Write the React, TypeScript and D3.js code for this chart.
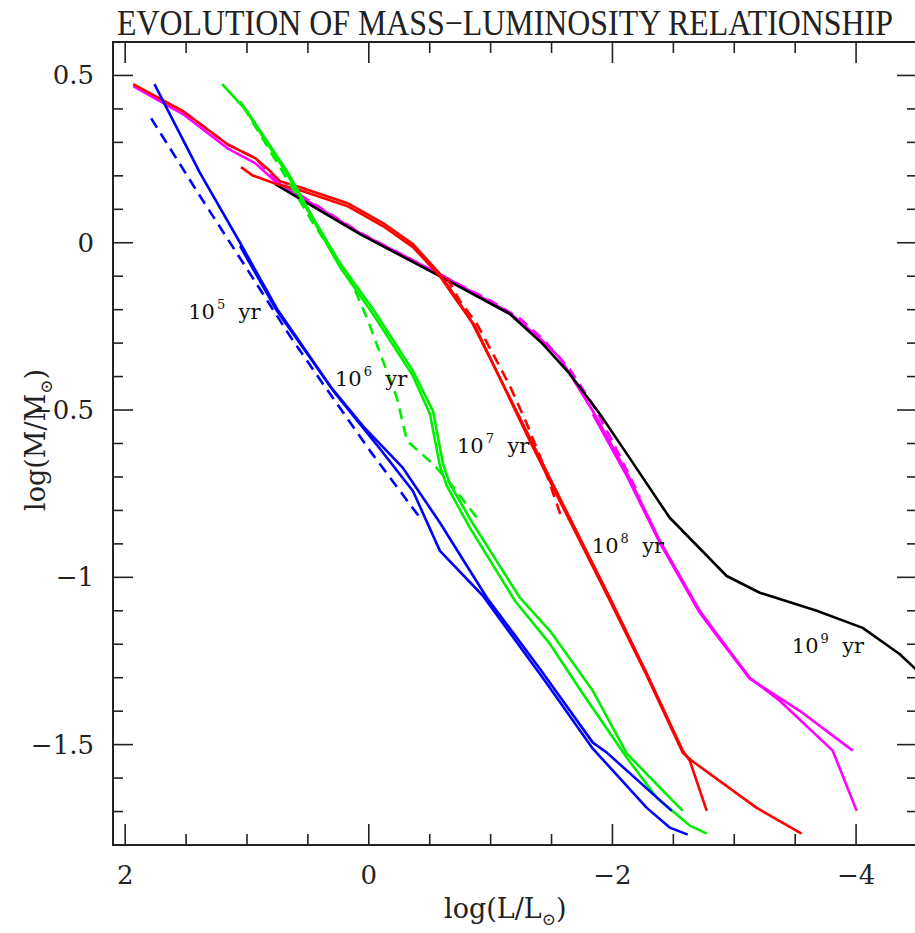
import React, { useLayoutEffect, useRef, useState } from "react";
import * as d3 from "d3";

type P = [number, number];

// 10^5 yr (blue)
const blueA: P[] = [[1.76,0.474],[1.385,0.208],[1.057,0.0],[0.753,-0.198],[0.318,-0.428],[0.048,-0.548],[-0.28,-0.673],[-0.584,-0.837],[-0.969,-1.061],[-1.404,-1.273],[-1.839,-1.494],[-1.954,-1.524],[-2.487,-1.698]];
const blueB: P[] = [[1.057,-0.01],[0.753,-0.204],[0.278,-0.449],[-0.092,-0.616],[-0.362,-0.742],[-0.584,-0.921],[-0.936,-1.055],[-1.445,-1.309],[-1.839,-1.512],[-2.282,-1.689],[-2.47,-1.748],[-2.618,-1.769]];
const blueDash: P[] = [[1.787,0.372],[1.385,0.139],[0.999,-0.079],[0.647,-0.279],[0.376,-0.422],[-0.01,-0.622],[-0.42,-0.822]];

// 10^6 yr (green)
const greenA: P[] = [[1.204,0.474],[0.999,0.393],[0.671,0.214],[0.458,0.074],[0.236,-0.061],[-0.034,-0.198],[-0.362,-0.383],[-0.527,-0.503],[-0.609,-0.661],[-0.666,-0.721],[-0.855,-0.84],[-1.24,-1.061],[-1.487,-1.16],[-1.839,-1.339],[-2.118,-1.527],[-2.577,-1.698]];
const greenB: P[] = [[1.057,0.423],[0.671,0.205],[0.236,-0.073],[-0.034,-0.213],[-0.362,-0.398],[-0.502,-0.512],[-0.584,-0.667],[-0.641,-0.727],[-0.83,-0.852],[-1.199,-1.07],[-1.487,-1.199],[-1.757,-1.348],[-2.118,-1.539],[-2.364,-1.659],[-2.635,-1.742],[-2.774,-1.766]];
const greenDash: P[] = [[1.032,0.408],[0.671,0.19],[0.458,0.059],[0.154,-0.108],[0.015,-0.225],[-0.116,-0.353],[-0.231,-0.464],[-0.313,-0.592],[-0.527,-0.661],[-0.666,-0.718],[-0.888,-0.822]];

// 10^7 yr (red)
const redA: P[] = [[1.934,0.474],[1.524,0.393],[1.163,0.295],[0.934,0.253],[0.827,0.22],[0.729,0.184],[0.564,0.166],[0.179,0.119],[-0.116,0.059],[-0.362,-0.004],[-0.584,-0.093],[-0.724,-0.168],[-0.855,-0.243],[-1.322,-0.583],[-1.568,-0.763],[-1.979,-1.061],[-2.282,-1.288],[-2.577,-1.518],[-2.635,-1.548],[-2.774,-1.698]];
const redB: P[] = [[1.049,0.226],[0.958,0.202],[0.753,0.175],[0.564,0.157],[0.179,0.11],[-0.116,0.05],[-0.362,-0.013],[-0.584,-0.1],[-0.724,-0.174],[-0.871,-0.249],[-1.322,-0.592],[-1.568,-0.772],[-1.979,-1.07],[-2.282,-1.294],[-2.577,-1.524],[-2.651,-1.548],[-3.184,-1.689],[-3.553,-1.766]];
const redDash: P[] = [[-0.641,-0.105],[-0.748,-0.174],[-0.888,-0.243],[-1.019,-0.332],[-1.158,-0.428],[-1.298,-0.542],[-1.404,-0.637],[-1.487,-0.721],[-1.585,-0.825]];

// 10^8 yr (magenta)
const magA: P[] = [[1.934,0.468],[1.524,0.384],[1.163,0.283],[0.934,0.238],[0.769,0.184],[0.072,0.029],[-0.609,-0.099],[-1.158,-0.21],[-1.429,-0.294],[-1.568,-0.344],[-1.839,-0.503],[-2.118,-0.688],[-2.389,-0.891],[-2.717,-1.1],[-2.856,-1.169],[-3.127,-1.3],[-3.373,-1.369],[-3.808,-1.518],[-4.005,-1.698]];
const magB: P[] = [[-1.839,-0.512],[-2.118,-0.697],[-2.389,-0.897],[-2.717,-1.106],[-2.856,-1.174],[-3.127,-1.303],[-3.537,-1.399],[-3.972,-1.518]];
const magDash: P[] = [[1.524,0.393],[1.163,0.295],[0.934,0.253],[0.769,0.19],[0.072,0.03],[-0.609,-0.1],[-0.994,-0.172],[-1.24,-0.226],[-1.445,-0.294],[-1.65,-0.378],[-1.85,-0.49],[-2.02,-0.608],[-2.225,-0.76]];

// 10^9 yr (black)
const black: P[] = [[0.769,0.175],[0.072,0.026],[-0.609,-0.105],[-1.158,-0.213],[-1.429,-0.303],[-1.65,-0.392],[-1.897,-0.512],[-2.118,-0.631],[-2.47,-0.822],[-2.938,-0.996],[-3.209,-1.046],[-3.677,-1.1],[-4.054,-1.151],[-4.357,-1.229],[-4.521,-1.285]];

const xMajorTicks = [2, 0, -2, -4];
const xTickLabels = ["2", "0", "\u22122", "\u22124"];
const yMajorTicks = [0.5, 0, -0.5, -1, -1.5];
const yTickLabels = ["0.5", "0", "\u22120.5", "\u22121", "\u22121.5"];

const ageExponents = ["5", "6", "7", "8", "9"];
const agePositions: P[] = [[1.483,-0.228],[0.278,-0.428],[-0.724,-0.628],[-1.831,-0.927],[-3.472,-1.226]];

const TITLE = "EVOLUTION OF MASS\u2212LUMINOSITY RELATIONSHIP";

const W = 915, H = 933;
const L = 113, R = 917, T = 42, B = 845;
const TITLE_WIDTH = 776;

export default function App() {
  const titleRef = useRef<SVGTextElement>(null);
  const [sx, setSx] = useState(0.82);
  useLayoutEffect(() => {
    if (titleRef.current) {
      const w = titleRef.current.getComputedTextLength();
      if (w > 0) setSx(TITLE_WIDTH / w);
    }
  }, []);

  const x = d3.scaleLinear().domain([2.1, -4.5]).range([L, R]);
  const y = d3.scaleLinear().domain([0.6, -1.8]).range([T, B]);
  const line = d3.line<P>().x(d => x(d[0])).y(d => y(d[1]));
  const xMinor = d3.range(0, 14).map(i => 2 - i * 0.5);
  const yMinor = d3.range(0, 24).map(i => Math.round((-1.8 + i * 0.1) * 10) / 10);
  const isYMajor = (v: number) => yMajorTicks.some(m => Math.abs(m - v) < 1e-6);
  const isXMajor = (v: number) => xMajorTicks.some(m => Math.abs(m - v) < 1e-6);

  const series: { d: P[]; c: string; dash?: boolean }[] = [
    { d: magDash, c: "#ff00ff", dash: true },
    { d: magA, c: "#ff00ff" },
    { d: magB, c: "#ff00ff" },
    { d: black, c: "#000000" },
    { d: redDash, c: "#ff0000", dash: true },
    { d: redA, c: "#ff0000" },
    { d: redB, c: "#ff0000" },
    { d: greenDash, c: "#00ee00", dash: true },
    { d: greenA, c: "#00ee00" },
    { d: greenB, c: "#00ee00" },
    { d: blueDash, c: "#0000ff", dash: true },
    { d: blueA, c: "#0000ff" },
    { d: blueB, c: "#0000ff" },
  ];
  const axisColor = "#222";
  const serif = "'DejaVu Serif', serif";

  return (
    <svg width={W} height={H} style={{ position: "absolute", left: 0, top: 0, background: "#fff" }}>
      <defs>
        <clipPath id="plot"><rect x={L} y={T} width={R - L} height={B - T} /></clipPath>
      </defs>
      <rect x={0} y={0} width={W} height={H} fill="#fff" />
      <text ref={titleRef} transform={`translate(505,35) scale(${sx},1)`} textAnchor="middle"
        fontFamily="'Liberation Serif', serif" fontSize={36} fill="#222">{TITLE}</text>

      <g clipPath="url(#plot)">
        {series.map((s, i) => (
          <path key={i} d={line(s.d) || ""} fill="none" stroke={s.c} strokeWidth={2.6}
            strokeDasharray={s.dash ? "11 7" : undefined} strokeLinejoin="round" />
        ))}
      </g>

      <rect x={L} y={T} width={R - L} height={B - T} fill="none" stroke={axisColor} strokeWidth={2} />
      {xMinor.map((v, i) => {
        const len = isXMajor(v) ? 21 : 11;
        return (
          <g key={"xt" + i} stroke={axisColor} strokeWidth={1.6}>
            <line x1={x(v)} x2={x(v)} y1={B} y2={B - len} />
            <line x1={x(v)} x2={x(v)} y1={T} y2={T + len} />
          </g>
        );
      })}
      {yMinor.map((v, i) => {
        const len = isYMajor(v) ? 20 : 10;
        return (
          <g key={"yt" + i} stroke={axisColor} strokeWidth={1.6}>
            <line x1={L} x2={L + len} y1={y(v)} y2={y(v)} />
            <line x1={R} x2={R - len} y1={y(v)} y2={y(v)} />
          </g>
        );
      })}
      {xMajorTicks.map((v, i) => (
        <text key={"xl" + i} x={x(v)} y={884} textAnchor="middle" fontFamily={serif} fontSize={26} fill="#222">{xTickLabels[i]}</text>
      ))}
      {yMajorTicks.map((v, i) => (
        <text key={"yl" + i} x={94} y={y(v) + 9} textAnchor="end" fontFamily={serif} fontSize={26} fill="#222">{yTickLabels[i]}</text>
      ))}

      <text x={444} y={918} fontFamily={serif} fontSize={27} fill="#222">log(L/L<tspan dy={7} fontSize={17}>{"\u2299"}</tspan><tspan dy={-7}>)</tspan></text>
      <text transform="translate(45,440) rotate(-90)" x={0} y={0} textAnchor="middle" fontFamily={serif} fontSize={27} fill="#222">log(M/M<tspan dy={7} fontSize={17}>{"\u2299"}</tspan><tspan dy={-7}>)</tspan></text>

      {ageExponents.map((e, i) => (
        <text key={"age" + i} x={x(agePositions[i][0])} y={y(agePositions[i][1])} fontFamily={serif} fontSize={21} fill="#111">
          10<tspan dx={2} dy={-10} fontSize={13}>{e}</tspan><tspan dy={10}>{"\u00a0\u00a0"}yr</tspan>
        </text>
      ))}
    </svg>
  );
}
